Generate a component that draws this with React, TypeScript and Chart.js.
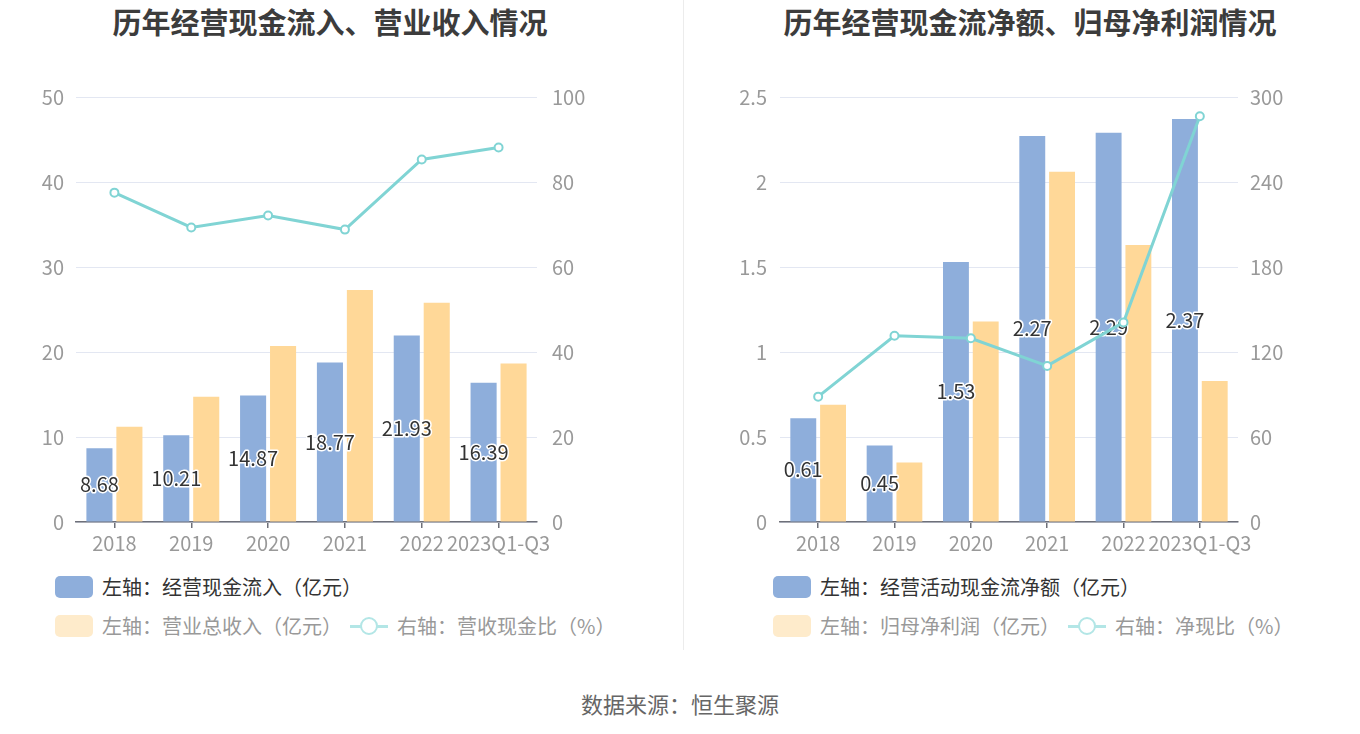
import React, { useEffect, useRef } from 'react';
import { Chart, registerables } from 'chart.js';

Chart.register(...registerables);

// ---------- data ----------
const categories = ['2018', '2019', '2020', '2021', '2022', '2023Q1-Q3'];

// left chart
const cashInflow = [8.68, 10.21, 14.87, 18.77, 21.93, 16.39];
const revenue = [11.2, 14.75, 20.7, 27.3, 25.8, 18.65];
const cashRevenueRatio = [77.5, 69.3, 72.1, 68.8, 85.3, 88.1];
const leftTicksA = [0, 10, 20, 30, 40, 50];
const rightTicksA = [0, 20, 40, 60, 80, 100];

// right chart
const netCashFlow = [0.61, 0.45, 1.53, 2.27, 2.29, 2.37];
const netProfit = [0.69, 0.35, 1.18, 2.06, 1.63, 0.83];
const netCashRatio = [88.5, 131.5, 129.7, 110.2, 140.9, 286.4];
const leftTicksB = [0, 0.5, 1, 1.5, 2, 2.5];
const rightTicksB = [0, 60, 120, 180, 240, 300];

const titleA = '历年经营现金流入、营业收入情况';
const titleB = '历年经营现金流净额、归母净利润情况';
const legendA = ['左轴：经营现金流入（亿元）', '左轴：营业总收入（亿元）', '右轴：营收现金比（%）'];
const legendB = ['左轴：经营活动现金流净额（亿元）', '左轴：归母净利润（亿元）', '右轴：净现比（%）'];
const sourceText = '数据来源：恒生聚源';

// ---------- styles ----------
const FONT = '"Noto Sans CJK SC", "Noto Sans", sans-serif';
const BLUE = '#8eaedb';
const YELLOW = '#ffd898';
const TEAL = '#80d4d4';
const GRID = '#e3e7f2';
const TICK = '#999999';
const AXIS = '#6e7079';

const barLabelPlugin = {
  id: 'barLabels',
  afterDatasetDraw(chart: any, args: any) {
    if (args.index !== 0) return;
    const ctx = chart.ctx as CanvasRenderingContext2D;
    const meta = args.meta;
    const data = chart.data.datasets[0].data as number[];
    ctx.save();
    ctx.font = `20px ${FONT}`;
    ctx.textAlign = 'center';
    ctx.textBaseline = 'middle';
    ctx.lineWidth = 3;
    ctx.lineJoin = 'round';
    ctx.strokeStyle = '#ffffff';
    ctx.fillStyle = '#333333';
    meta.data.forEach((el: any, i: number) => {
      const p = el.getProps(['x', 'y', 'base'], true);
      const ty = (p.y + p.base) / 2;
      const text = data[i].toFixed(2);
      ctx.strokeText(text, p.x, ty);
      ctx.fillText(text, p.x, ty);
    });
    ctx.restore();
  },
};

type Cfg = {
  bars1: number[];
  bars2: number[];
  line: number[];
  leftTicks: number[];
  rightTicks: number[];
  leftWidth: number;
  rightWidth: number;
  leftPad: number;
  rightPad: number;
};

function makeChart(canvas: HTMLCanvasElement, c: Cfg) {
  const tickFont = { family: FONT, size: 20 };
  return new Chart(canvas, {
    type: 'bar',
    data: {
      labels: categories,
      datasets: [
        {
          type: 'bar',
          data: c.bars1,
          backgroundColor: BLUE,
          yAxisID: 'y',
          order: 1,
          categoryPercentage: 0.78,
          barPercentage: 0.87,
        } as any,
        {
          type: 'bar',
          data: c.bars2,
          backgroundColor: YELLOW,
          yAxisID: 'y',
          order: 1,
          categoryPercentage: 0.78,
          barPercentage: 0.87,
        } as any,
        {
          type: 'line',
          data: c.line,
          yAxisID: 'y1',
          order: 0,
          borderColor: TEAL,
          borderWidth: 3,
          pointRadius: 4,
          pointBorderWidth: 2,
          pointBackgroundColor: '#ffffff',
          pointBorderColor: TEAL,
          tension: 0,
        } as any,
      ],
    },
    options: {
      animation: false,
      responsive: true,
      maintainAspectRatio: false,
      layout: { padding: { top: 97, left: 0, right: 0, bottom: 0 } },
      plugins: {
        legend: { display: false },
        title: { display: false },
        tooltip: { enabled: false },
      },
      scales: {
        x: {
          offset: true,
          grid: {
            offset: false,
            drawOnChartArea: false,
            drawTicks: true,
            tickLength: 6,
            color: AXIS,
            lineWidth: 1.5,
          },
          border: { display: true, color: AXIS, width: 1.5 },
          ticks: {
            color: TICK,
            font: tickFont,
            padding: 3,
            autoSkip: false,
            maxRotation: 0,
            minRotation: 0,
          },
          afterFit: (s: any) => {
            s.height = 38;
          },
        },
        y: {
          position: 'left',
          min: c.leftTicks[0],
          max: c.leftTicks[c.leftTicks.length - 1],
          afterBuildTicks: (s: any) => {
            s.ticks = c.leftTicks.map((v) => ({ value: v }));
          },
          grid: { color: GRID, lineWidth: 1, drawTicks: false },
          border: { display: false },
          ticks: {
            color: TICK,
            font: tickFont,
            padding: c.leftPad,
            callback: (v: any) => String(Number(v)),
          },
          afterFit: (s: any) => {
            s.width = c.leftWidth;
          },
        },
        y1: {
          position: 'right',
          min: c.rightTicks[0],
          max: c.rightTicks[c.rightTicks.length - 1],
          afterBuildTicks: (s: any) => {
            s.ticks = c.rightTicks.map((v) => ({ value: v }));
          },
          grid: { drawOnChartArea: false, drawTicks: false },
          border: { display: false },
          ticks: {
            color: TICK,
            font: tickFont,
            padding: c.rightPad,
            callback: (v: any) => String(Number(v)),
          },
          afterFit: (s: any) => {
            s.width = c.rightWidth;
          },
        },
      },
    } as any,
    plugins: [barLabelPlugin],
  });
}

function ChartBox({ left, cfg }: { left: number; cfg: Cfg }) {
  const ref = useRef<HTMLCanvasElement | null>(null);
  useEffect(() => {
    if (!ref.current) return;
    const ch = makeChart(ref.current, cfg);
    return () => ch.destroy();
  }, []);
  return (
    <div style={{ position: 'absolute', left, top: 0, width: 680, height: 560 }}>
      <canvas ref={ref} />
    </div>
  );
}

function Legend({ x, lineX, labels }: { x: number; lineX: number; labels: string[] }) {
  const txt: React.CSSProperties = {
    position: 'absolute',
    fontSize: 20,
    lineHeight: '26px',
    whiteSpace: 'nowrap',
  };
  return (
    <>
      <div style={{ position: 'absolute', left: x, top: 576, width: 38, height: 22, borderRadius: 5, background: BLUE }} />
      <div style={{ ...txt, left: x + 47, top: 574, color: '#333' }}>{labels[0]}</div>
      <div style={{ position: 'absolute', left: x, top: 615, width: 38, height: 22, borderRadius: 5, background: '#feebcb' }} />
      <div style={{ ...txt, left: x + 47, top: 613, color: '#999' }}>{labels[1]}</div>
      <div style={{ position: 'absolute', left: lineX, top: 625, width: 38, height: 3, background: '#b3e6e6' }} />
      <div
        style={{
          position: 'absolute',
          left: lineX + 19 - 9,
          top: 626 - 9,
          width: 14,
          height: 14,
          borderRadius: '50%',
          border: '2.5px solid #b3e6e6',
          background: '#fff',
        }}
      />
      <div style={{ ...txt, left: lineX + 47, top: 613, color: '#999' }}>{labels[2]}</div>
    </>
  );
}

export default function App() {
  const cfgA: Cfg = {
    bars1: cashInflow,
    bars2: revenue,
    line: cashRevenueRatio,
    leftTicks: leftTicksA,
    rightTicks: rightTicksA,
    leftWidth: 76,
    rightWidth: 143,
    leftPad: 12,
    rightPad: 15,
  };
  const cfgB: Cfg = {
    bars1: netCashFlow,
    bars2: netProfit,
    line: netCashRatio,
    leftTicks: leftTicksB,
    rightTicks: rightTicksB,
    leftWidth: 100,
    rightWidth: 122,
    leftPad: 13,
    rightPad: 12,
  };
  const titleStyle: React.CSSProperties = {
    position: 'absolute',
    top: 0,
    height: 42,
    lineHeight: '42px',
    textAlign: 'center',
    fontSize: 29,
    fontWeight: 'bold',
    color: '#3c3c3c',
    whiteSpace: 'nowrap',
  };
  return (
    <div
      style={{
        position: 'fixed',
        left: 0,
        top: 0,
        width: 1360,
        height: 734,
        background: '#fff',
        fontFamily: FONT,
        overflow: 'hidden',
      }}
    >
      <div style={{ ...titleStyle, left: 0, width: 660 }}>{titleA}</div>
      <div style={{ ...titleStyle, left: 700, width: 660 }}>{titleB}</div>
      <ChartBox left={0} cfg={cfgA} />
      <ChartBox left={680} cfg={cfgB} />
      <div style={{ position: 'absolute', left: 683, top: 0, width: 1, height: 650, background: '#ececec' }} />
      <Legend x={55} lineX={350} labels={legendA} />
      <Legend x={773} lineX={1068} labels={legendB} />
      <div
        style={{
          position: 'absolute',
          left: 0,
          width: 1360,
          top: 687,
          lineHeight: '32px',
          textAlign: 'center',
          fontSize: 22,
          color: '#666',
        }}
      >
        {sourceText}
      </div>
    </div>
  );
}
